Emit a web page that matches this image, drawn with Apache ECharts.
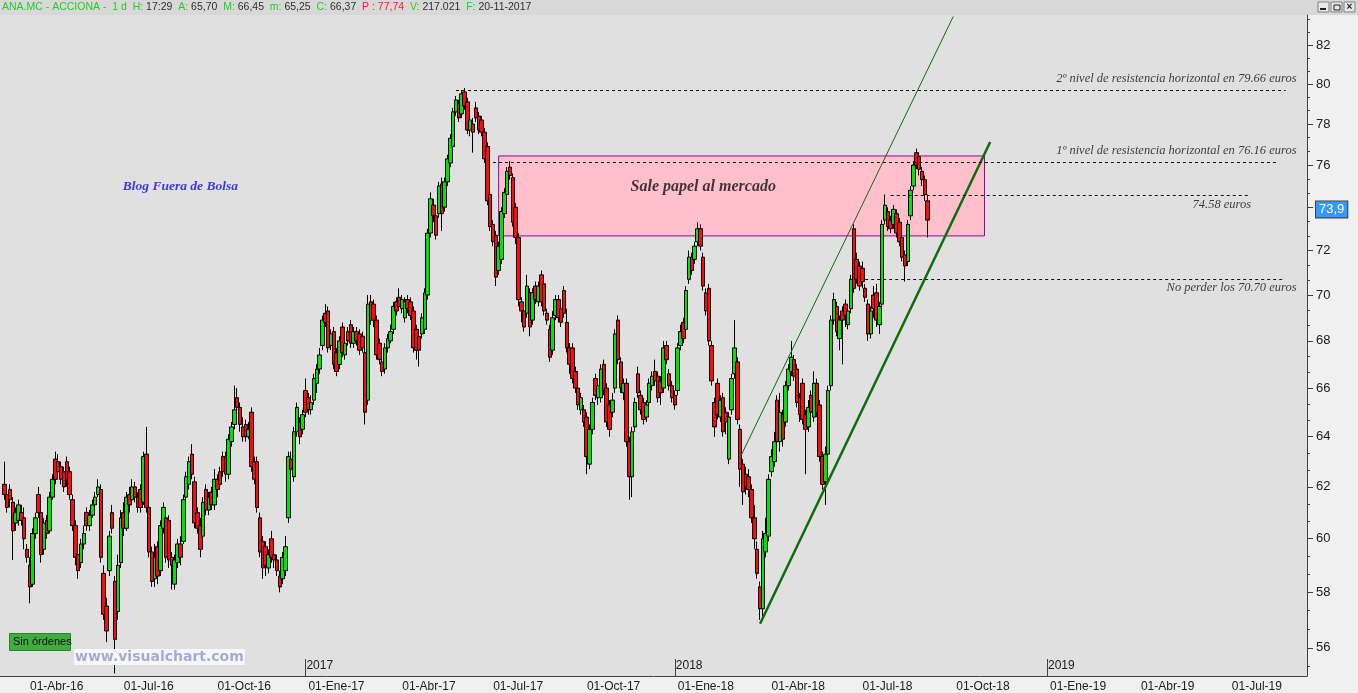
<!DOCTYPE html>
<html><head><meta charset="utf-8">
<script src="https://cdn.jsdelivr.net/npm/echarts@6/dist/echarts.min.js"></script>
<style>html,body{margin:0;padding:0;background:#f0f0f0;}#c{width:1358px;height:693px;}</style>
</head><body><div id="c"></div><script>
// ---- data ----
const startDate = [2016, 2, 7];        // first weekday of the axis
const bucketCount = 460;               // two trading days per candle
const monthNames = ['Ene','Feb','Mar','Abr','May','Jun','Jul','Ago','Sep','Oct','Nov','Dic'];
const yTickLabels = [56,58,60,62,64,66,68,70,72,74,76,78,80,82];
const yMin = 55.01, yMax = 83.57;
// [open, close, low, high]
const ohlc2016a = [
[62.1,61.7,61.5,63.0],[61.7,61.2,61.0,61.9],[61.9,61.5,61.2,62.1],[61.4,60.3,59.2,61.6],[60.6,61.0,60.3,61.2],
[60.7,61.3,60.5,61.5],[61.0,60.7,60.5,61.3],[60.8,60.0,59.6,61.2],[59.6,59.3,59.1,59.8],[59.0,58.2,57.6,59.3],
[58.3,60.2,58.2,60.4],[60.2,60.8,60.0,61.0],[61.7,61.0,60.8,62.0],[61.0,59.4,59.1,61.2],[59.6,60.6,59.4,60.8],
[60.7,60.2,60.0,60.9],[60.3,61.6,60.2,61.8],[61.6,62.3,61.5,62.5],[63.1,62.3,62.1,63.4],[63.0,62.6,62.3,63.3],
[62.8,62.3,62.1,63.0],[62.6,62.0,61.8,62.8],[63.0,62.3,62.0,63.2],[62.6,61.7,61.5,62.8],[61.5,60.5,60.3,61.7],
[60.5,59.3,59.0,60.7],[59.4,58.8,58.5,59.6],[59.1,59.8,58.9,60.0],[59.8,60.2,59.6,60.5],[61.0,60.5,60.3,61.2],
[60.5,60.9,60.3,61.1],[60.9,61.3,60.8,61.5],[61.3,61.6,61.2,61.8],[61.7,62.0,61.6,62.3],[61.9,59.3,59.1,62.1],
[58.7,57.2,57.0,59.0],[57.5,56.6,56.2,57.8],[58.8,60.1,58.6,60.3],[61.0,60.4,60.2,61.3],[58.4,56.3,55.1,58.6]
];
const ohlc2016b = [
[57.3,59.0,57.0,59.4],[59.1,60.8,58.9,61.1],[61.0,60.4,60.1,61.4],[60.4,61.6,60.3,61.8],[61.7,61.3,61.0,62.0],
[61.5,62.0,61.4,62.3],[62.0,61.6,61.4,62.2],[61.6,61.2,61.0,61.8],[61.9,61.2,61.0,62.1],[61.4,63.2,61.3,63.4],
[63.3,61.2,61.0,64.4],[61.2,59.5,59.3,61.4],[59.5,58.4,58.2,59.7],[58.5,59.3,58.2,59.8],[59.7,58.6,58.3,59.9],
[58.8,60.5,58.6,60.7],[60.4,61.2,60.2,61.4],[60.8,59.3,59.1,61.0],[60.7,59.2,58.9,60.9],[59.3,59.0,58.1,59.5],
[58.3,59.2,58.1,59.4],[59.1,59.8,58.9,60.0],[59.8,59.3,59.0,60.1],[59.9,61.5,59.8,61.7],[61.6,62.4,61.5,62.6],
[62.1,63.0,61.9,63.2],[63.3,62.5,62.3,63.7],[62.2,60.6,60.4,62.4],[61.0,60.4,60.2,61.2],[60.5,59.6,59.3,60.8],
[60.1,61.4,59.9,61.6],[61.9,61.1,60.9,62.1],[61.1,61.6,60.9,61.8],[61.8,61.3,61.1,62.0],[61.3,62.3,61.1,62.7],
[62.3,61.9,61.6,62.5],[62.6,62.1,61.9,62.8],[63.2,62.6,62.4,63.4],[63.2,62.5,62.2,63.4],[62.5,63.9,62.3,64.1],
[63.8,64.4,63.6,64.6],[64.5,65.1,64.3,66.1],[65.6,65.2,65.0,66.0],[65.2,64.5,64.2,65.4],[64.4,64.0,63.8,64.8],
[64.5,64.0,63.8,64.7],[64.0,64.3,63.9,64.6],[65.0,62.8,62.6,65.2],[63.0,62.3,62.1,63.2],[63.0,61.2,61.0,63.2],
[60.8,59.5,59.3,61.0],[59.9,58.9,58.5,60.1],[59.7,59.0,58.6,59.9],[58.9,59.4,58.7,59.6],[60.0,59.3,59.1,60.3],
[59.4,59.2,58.9,59.6],[59.2,58.8,58.6,59.4],[58.6,58.2,58.0,58.8],[58.5,59.3,58.3,59.5],[58.8,59.7,58.6,60.1]
];
const ohlc2017a = [
[60.8,63.2,60.6,63.4],[63.1,62.7,62.5,63.4],[62.4,64.2,62.2,64.4],[64.2,65.2,64.0,65.4],[64.6,64.0,63.7,64.8],
[64.3,64.9,64.1,65.1],[65.9,65.0,64.8,66.4],[65.6,65.1,64.9,65.8],[65.1,65.4,64.9,65.7],[65.5,66.4,65.3,66.6],
[66.2,66.8,65.8,67.0],[66.8,67.4,66.6,67.7],[67.8,68.9,67.6,69.1],[69.2,68.8,68.6,69.6],[69.3,67.7,67.5,69.5],
[67.8,68.3,67.6,68.5],[68.4,67.0,66.8,68.6],[67.5,66.7,66.5,67.7],[67.0,68.0,66.8,68.2],[68.6,67.5,67.3,68.8],
[67.4,67.9,67.2,68.1],[68.4,68.0,67.8,68.6],[68.7,67.9,67.7,68.9],[67.9,68.4,67.7,68.6],[68.4,68.0,67.8,68.6],
[68.3,67.6,67.4,68.5],[68.2,67.7,67.5,68.4],[67.5,65.0,64.5,67.7],[65.5,69.6,65.3,70.0],[69.7,68.9,68.7,70.0],
[69.6,68.9,68.6,69.8],[68.9,67.4,67.2,69.1],[67.9,67.2,67.0,68.1],[67.1,66.7,66.5,67.3],[66.8,67.7,66.6,67.9],
[67.7,68.1,67.5,68.3],[68.0,68.4,67.9,68.7],[68.5,69.5,68.3,69.7],[69.7,69.3,69.1,69.9],[69.9,69.5,69.3,70.3],
[69.4,69.8,69.2,70.0],[69.0,69.7,68.8,69.9],[69.8,69.4,69.2,70.0],[69.7,69.1,68.9,69.9],[69.3,67.7,67.5,69.5],
[68.5,67.6,67.2,68.7],[68.2,67.6,66.9,68.4],[68.3,69.0,68.1,69.2],[68.5,70.1,68.3,70.3],[70.0,72.8,69.8,73.0],
[72.8,74.4,72.6,74.7],[74.1,73.6,73.3,74.4],[73.6,72.7,72.5,73.8],[73.7,75.0,73.5,75.2],[75.1,73.7,72.9,75.4],
[74.0,75.2,73.8,75.4],[75.2,76.3,75.0,76.5],[76.1,77.3,75.9,77.5],[76.9,78.6,76.7,78.8],[78.6,79.2,78.4,79.4],
[79.0,78.3,78.1,79.2],[78.5,79.5,78.3,79.7],[79.6,78.9,78.7,79.8],[79.1,77.7,77.5,79.3],[77.7,78.2,77.4,78.5],
[78.0,77.6,76.6,78.3],[78.8,78.3,78.1,79.1],[78.4,77.7,77.5,78.6],[78.2,77.6,77.4,78.4],[77.6,76.3,76.1,77.8],
[76.9,74.3,74.1,77.1],[74.6,73.1,72.9,74.8],[73.2,72.4,72.2,73.4],[72.7,70.8,70.4,72.9],[71.1,72.2,70.9,72.4],
[71.6,73.8,71.4,74.0],[73.7,74.7,73.5,74.9],[74.6,75.7,74.4,75.9],[75.9,75.5,75.3,76.2],[75.4,73.3,73.1,75.6],
[74.0,72.6,72.3,74.2],[72.6,69.8,69.5,72.8],[69.7,69.3,68.8,69.9],[69.3,68.6,68.4,69.5],[69.2,70.4,69.0,70.9],
[70.1,68.6,68.2,70.3],[68.9,70.1,68.7,70.3],[70.4,69.8,69.6,70.6],[69.7,70.4,69.5,70.6],[70.9,69.7,69.5,71.1],
[70.5,69.3,69.1,70.7],[69.2,68.9,68.7,69.4],[68.5,67.3,67.1,68.7],[67.6,69.0,67.4,69.3],[69.1,69.8,68.9,70.0],
[69.8,69.0,68.8,70.0]
];
const ohlc2017b = [
[69.4,68.8,68.6,69.8],[70.2,69.2,69.0,70.4],[68.8,67.7,67.5,69.4],[67.7,67.0,66.6,67.9],[67.7,66.4,66.2,67.9],
[66.7,66.0,65.8,66.9],[66.0,65.3,65.1,66.2],[65.1,65.6,64.9,65.8],[65.1,64.6,64.4,65.3],[64.8,63.2,62.5,65.0],
[62.9,64.3,62.7,64.5],[64.3,65.4,64.1,65.6],[66.4,65.7,65.5,66.6],[65.6,66.1,65.3,66.3],[65.6,66.8,65.4,67.0],
[67.0,65.9,65.7,67.2],[66.0,64.6,64.4,66.2],[65.3,64.3,64.0,65.5],[65.0,65.5,64.8,65.8],[66.0,68.3,65.8,68.5],
[68.9,67.2,67.0,69.1],[67.1,66.0,65.8,67.3],[65.8,66.2,65.5,66.4],[66.2,63.8,63.6,66.4],[63.8,62.4,61.5,64.0],
[62.4,64.2,61.6,64.4],[64.4,65.4,64.2,65.6],[66.6,65.8,65.6,66.9],[65.7,65.1,64.9,65.9],[65.4,64.7,64.5,65.6],
[64.8,65.3,64.6,65.5],[65.4,66.2,65.2,66.4],[66.1,66.5,65.9,66.7],[66.7,66.3,66.1,67.2],[66.5,65.6,65.4,66.7],
[66.3,65.8,65.3,66.5],[66.0,67.7,65.8,68.0],[67.8,67.2,67.0,68.0],[66.6,66.1,65.9,66.8],[66.1,65.6,65.4,66.3],
[65.7,65.3,65.1,65.9],[65.9,67.7,65.7,67.9],[67.8,68.4,67.6,68.7],[68.8,68.1,67.9,69.0],[68.5,70.2,68.3,70.4],
[70.7,71.7,70.5,72.0],[71.7,71.1,70.9,71.9],[71.6,72.2,71.4,72.4],[72.4,73.0,72.2,73.3],[73.0,72.2,72.0,73.2],
[71.7,70.4,70.2,71.9],[70.1,69.3,69.1,70.3],[70.3,68.0,67.8,70.5],[67.8,66.3,66.1,68.0],[65.4,64.4,64.0,65.6],
[66.2,64.9,64.7,66.4],[64.8,65.5,64.6,65.7],[65.6,64.2,64.0,65.8],[65.0,64.6,64.1,65.2],[63.1,64.8,62.9,65.0],
[65.1,66.4,64.9,66.6],[66.6,67.7,66.4,68.9],[67.1,64.7,64.5,67.3],[64.3,62.7,62.0,64.5],[62.9,61.8,61.3,63.1]
];
const ohlc2018 = [
[62.5,62.0,61.7,62.8],[62.4,61.9,61.6,62.7],[61.9,60.8,60.6,62.1],[60.8,60.0,59.6,61.3],[59.6,58.7,58.5,59.9],
[58.2,57.4,57.0,58.4],[57.4,60.0,57.1,60.3],[59.5,60.2,59.3,60.8],[60.1,62.3,59.9,62.5],[62.6,63.2,62.4,63.5],
[63.0,63.8,62.8,64.2],[65.5,63.8,63.6,65.7],[63.8,65.0,63.4,65.8],[64.9,63.9,63.6,65.1],[64.6,66.1,64.4,66.3],
[66.1,66.8,65.9,67.0],[66.7,67.3,66.5,68.0],[67.2,66.5,66.3,67.4],[66.8,65.4,65.2,67.0],[65.6,64.9,64.6,65.8],
[66.2,64.7,64.5,66.4],[64.9,64.3,62.5,65.1],[64.4,65.2,64.2,65.5],[65.7,65.0,64.8,65.9],[64.8,66.2,64.6,66.7],
[66.2,65.0,64.8,66.4],[65.3,63.2,63.0,65.5],[63.2,62.1,61.9,63.4],[62.2,63.3,61.3,63.6],[63.3,65.9,63.1,66.1],
[66.1,68.9,65.9,69.1],[68.9,69.8,68.7,70.1],[69.5,68.4,68.2,69.7],[68.1,68.9,67.6,69.1],[69.3,68.9,67.0,69.5],
[69.6,69.1,68.6,69.8],[68.7,69.3,68.5,69.5],[69.4,70.7,69.2,70.9],[73.0,70.3,70.1,73.2],[71.6,70.7,70.5,71.9],
[71.3,70.4,70.2,71.5],[71.2,70.6,70.3,71.5],[70.3,69.9,69.7,70.5],[69.6,68.3,68.0,69.8],[68.3,69.3,68.1,69.5],
[70.0,69.4,69.0,70.4],[70.1,68.9,68.6,70.5],[68.7,69.5,68.3,69.7],[69.6,73.2,69.4,73.4],[73.4,74.1,73.2,74.6],
[73.8,73.1,72.9,74.0],[73.4,73.0,72.8,73.6],[73.2,73.9,73.0,74.1],[73.7,72.8,72.6,73.9],[73.3,72.4,72.2,73.5],
[72.6,71.7,71.5,72.8],[71.8,71.3,70.6,72.0],[71.5,73.2,71.3,73.4],[73.6,74.8,73.4,75.0],[75.0,76.0,74.8,76.2],
[76.6,76.0,75.8,76.8],[76.4,75.8,75.5,76.6],[75.7,75.3,75.0,75.9],[75.3,74.6,74.3,75.5],[74.3,73.4,72.6,74.6]
];
const lastPrice = 73.9;
const levelValues = [79.66, 76.16, 74.58, 70.70];
const boxRange = [76.44, 72.67];
const supportLineValues = [56.86, 77.12];
const channelLineValues = [63.17, 83.49];

// ---- categories (weekdays, paired) ----
const days = [];
let dt = new Date(Date.UTC(startDate[0], startDate[1], startDate[2]));
while (days.length < bucketCount * 2) {
  const wd = dt.getUTCDay();
  if (wd !== 0 && wd !== 6) days.push(new Date(dt.getTime()));
  dt = new Date(dt.getTime() + 86400000);
}
const pad = n => (n < 10 ? '0' : '') + n;
const cats = [], quarterLabel = {}, yearLabel = {};
for (let k = 0; k < bucketCount; k++) {
  const a = days[2 * k];
  cats.push(a.getUTCFullYear() + '-' + pad(a.getUTCMonth() + 1) + '-' + pad(a.getUTCDate()));
  for (let j = 0; j < 2; j++) {
    const i = 2 * k + j, dd = days[i];
    if (i > 0 && dd.getUTCMonth() !== days[i - 1].getUTCMonth()) {
      const m = dd.getUTCMonth();
      if (m % 3 === 0) quarterLabel[k] = '01-' + monthNames[m] + '-' + String(dd.getUTCFullYear()).slice(2);
      if (m === 0) yearLabel[k] = String(dd.getUTCFullYear());
    }
  }
}
const candleData = [['-','-','-','-']].concat(ohlc2016a, ohlc2016b, ohlc2017a, ohlc2017b, ohlc2018);

const lnMin = Math.log(yMin), lnMax = Math.log(yMax);
const majorLn = yTickLabels.map(v => Math.log(v));
const minorLn = [];
[54].concat(yTickLabels).forEach(v => { [2/3, 4/3].forEach(f => { const x = Math.log(v + f); if (x > lnMin && x < lnMax) minorLn.push(x); }); });

const C = k => cats[k];
const serif = 'Liberation Serif';
const sans = 'Liberation Sans';
const dash = {type: [3, 3], color: '#111', width: 1};
const hf = 10.5;

const chart = echarts.init(document.getElementById('c'), null, {renderer: 'canvas'});
chart.setOption({
  animation: false,
  backgroundColor: '#f0f0f0',
  title: {
    left: 2, top: 2, padding: 0,
    text: '{g|ANA.MC - ACCIONA -  1 d  H:}{d| 17:29}{g|  A:}{d| 65,70}{g|  M:}{d| 66,45}{g|  m:}{d| 65,25}{g|  C:}{d| 66,37}{r|  P : 77,74}{g|  V:}{d| 217.021}{g|  F:}{d| 20-11-2017}',
    textStyle: {
      fontSize: hf, fontWeight: 'normal', fontFamily: sans,
      rich: {
        g: {color: '#1fd01f', fontSize: hf, fontFamily: sans},
        d: {color: '#303030', fontSize: hf, fontFamily: sans},
        r: {color: '#ff2020', fontSize: hf, fontFamily: sans}
      }
    }
  },
  grid: {left: 0, right: 51, top: 15, bottom: 17, show: true, backgroundColor: '#e0e0e0', borderWidth: 0},
  xAxis: [
    {
      type: 'category', data: cats, position: 'bottom', boundaryGap: true,
      axisLine: {onZero: false, lineStyle: {color: '#404040', width: 1}},
      axisTick: {alignWithLabel: true, length: 7, interval: (i) => quarterLabel[i] !== undefined, lineStyle: {color: '#404040'}},
      axisLabel: {interval: (i) => quarterLabel[i] !== undefined, formatter: (v, i) => quarterLabel[i] || '',
        align: 'left', margin: 5, padding: [0, 0, 0, 3], color: '#202020', fontSize: 12, fontFamily: sans},
      splitLine: {show: false}
    },
    {
      type: 'category', data: cats, position: 'bottom', boundaryGap: true,
      axisLine: {show: false, onZero: false},
      axisTick: {show: true, inside: true, alignWithLabel: true, length: 17, interval: (i) => yearLabel[i] !== undefined, lineStyle: {color: '#404040'}},
      axisLabel: {inside: true, interval: (i) => yearLabel[i] !== undefined, formatter: (v, i) => yearLabel[i] || '',
        align: 'left', margin: 4, padding: [0, 0, 0, 1], color: '#202020', fontSize: 12, fontFamily: sans},
      splitLine: {show: false}
    }
  ],
  yAxis: [
    {type: 'log', logBase: 10, min: yMin, max: yMax, position: 'right',
      axisLine: {show: false}, axisTick: {show: false}, axisLabel: {show: false}, splitLine: {show: false}},
    {type: 'value', min: lnMin, max: lnMax, position: 'right',
      axisLine: {show: true, lineStyle: {color: '#404040'}},
      axisTick: {show: true, customValues: majorLn, length: 6, lineStyle: {color: '#404040'}},
      axisLabel: {customValues: majorLn, formatter: v => String(Math.round(Math.exp(v))), color: '#202020', fontSize: 13, margin: 9, fontFamily: sans},
      splitLine: {show: false}},
    {type: 'value', min: lnMin, max: lnMax, position: 'right',
      axisLine: {show: false},
      axisTick: {show: true, customValues: minorLn, length: 3, lineStyle: {color: '#404040'}},
      axisLabel: {show: false}, splitLine: {show: false}}
  ],
  series: [
    {
      name: 'zona', type: 'line', data: [], z: 1, xAxisIndex: 0, yAxisIndex: 0,
      markArea: {silent: true, itemStyle: {color: '#ffc0cb', borderColor: '#990099', borderWidth: 1},
        data: [[{coord: [C(175), boxRange[0]]}, {coord: [C(346), boxRange[1]]}]]}
    },
    {
      name: 'ACCIONA', type: 'candlestick', data: candleData, z: 2, xAxisIndex: 0, yAxisIndex: 0,
      barWidth: 4,
      itemStyle: {color: '#00e600', color0: '#ff0a0a', borderColor: '#000000', borderColor0: '#000000', borderWidth: 1}
    },
    {
      name: 'niveles', type: 'line', data: [], z: 3, xAxisIndex: 0, yAxisIndex: 0,
      markLine: {silent: true, symbol: 'none', label: {show: false},
        data: [
          [{coord: [C(160), levelValues[0]], lineStyle: dash}, {coord: [C(452), levelValues[0]]}],
          [{coord: [C(173), levelValues[1]], lineStyle: dash}, {coord: [C(449), levelValues[1]]}],
          [{coord: [C(313), levelValues[2]], lineStyle: dash}, {coord: [C(439), levelValues[2]]}],
          [{coord: [C(304), levelValues[3]], lineStyle: dash}, {coord: [C(451), levelValues[3]]}]
        ]}
    },
    {
      name: 'ultimo', type: 'line', data: [], z: 6, xAxisIndex: 0, yAxisIndex: 0,
      markLine: {silent: true, symbol: 'none',
        lineStyle: {color: 'rgba(0,0,0,0)', width: 1, type: 'solid'},
        label: {show: true, position: 'end', distance: 9, formatter: '73,9', color: '#ffffff', backgroundColor: '#3399ff',
          borderColor: '#404040', borderWidth: 1, padding: [2, 3, 1, 3], fontSize: 13, fontFamily: sans},
        data: [{yAxis: lastPrice}]}
    },
    {
      name: 'soporte', type: 'line', z: 4, xAxisIndex: 0, yAxisIndex: 0, symbol: 'none', silent: true,
      lineStyle: {color: '#0a6e0a', width: 2.5},
      data: [[C(267), supportLineValues[0]], [C(348), supportLineValues[1]]]
    },
    {
      name: 'canal', type: 'line', z: 4, xAxisIndex: 0, yAxisIndex: 0, symbol: 'none', silent: true,
      lineStyle: {color: '#0a6e0a', width: 1},
      data: [[C(260), channelLineValues[0]], [C(335), channelLineValues[1]]]
    },
    {
      name: 'textos', type: 'scatter', z: 5, xAxisIndex: 0, yAxisIndex: 0, symbolSize: 1, silent: true,
      itemStyle: {color: 'rgba(0,0,0,0)'},
      label: {show: true, position: 'left', distance: 0, color: '#111111', fontFamily: serif, fontStyle: 'italic', fontSize: 12.5},
      data: [
        {value: [C(456), 80.25], label: {formatter: '2º nivel de resistencia horizontal en 79.66 euros'}},
        {value: [C(456), 76.70], label: {formatter: '1º nivel de resistencia horizontal en 76.16 euros'}},
        {value: [C(440), 74.11], label: {formatter: '74.58 euros'}},
        {value: [C(456), 70.32], label: {formatter: 'No perder los 70.70 euros'}},
        {value: [C(247), 74.96], label: {position: 'inside', formatter: 'Sale papel al mercado', fontWeight: 'bold', fontSize: 16, color: '#101010'}},
        {value: [C(63), 74.96], label: {position: 'inside', formatter: 'Blog Fuera de Bolsa', fontWeight: 'bold', fontSize: 13.5, color: '#0c0cf0'}}
      ]
    }
  ],
  graphic: [
    {type: 'rect', z: 0, shape: {x: 0, y: 0, width: 1358, height: 15}, style: {fill: '#d8d8d8'}},
    {type: 'rect', z: 10, shape: {x: 1318, y: 2, width: 11, height: 10}, style: {fill: '#e8e8e8', stroke: '#808080', lineWidth: 1}},
    {type: 'rect', z: 10, shape: {x: 1331, y: 2, width: 11, height: 10}, style: {fill: '#e8e8e8', stroke: '#808080', lineWidth: 1}},
    {type: 'rect', z: 10, shape: {x: 1344, y: 2, width: 11, height: 10}, style: {fill: '#e8e8e8', stroke: '#808080', lineWidth: 1}},
    {type: 'rect', z: 11, shape: {x: 1320, y: 8, width: 6, height: 2}, style: {fill: '#202020'}},
    {type: 'rect', z: 11, shape: {x: 1334, y: 5, width: 6, height: 5}, style: {fill: 'none', stroke: '#202020', lineWidth: 1}},
    {type: 'text', z: 11, x: 1349.5, y: 7, style: {text: '×', fill: '#202020', font: 'bold 10px ' + sans, textAlign: 'center', textVerticalAlign: 'middle'}},
    {type: 'rect', z: 10, shape: {x: 9.5, y: 633.5, width: 61, height: 17}, style: {fill: '#3fae3f', stroke: '#2a862a', lineWidth: 1}},
    {type: 'text', z: 11, x: 13, y: 642, style: {text: 'Sin órdenes', fill: '#101010', font: '11px ' + sans, textVerticalAlign: 'middle'}},
    {type: 'text', z: 11, x: 74, y: 657, style: {text: 'www.visualchart.com', fill: '#a7abd3', font: 'bold 14px DejaVu Sans', textVerticalAlign: 'middle', backgroundColor: '#f6f6fa', padding: [1, 1]}}
  ]
});
</script></body></html>
